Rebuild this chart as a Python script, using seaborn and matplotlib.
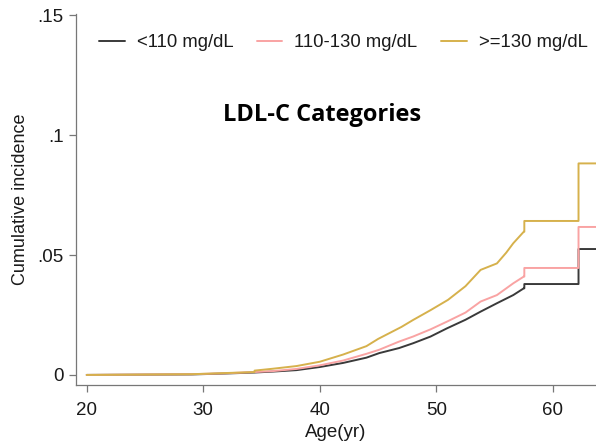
import matplotlib
matplotlib.use("Agg")
import matplotlib.pyplot as plt
import seaborn as sns
import pandas as pd

groups = ["<110 mg/dL", "110-130 mg/dL", ">=130 mg/dL"]

age_low = [20, 29, 32, 34.4, 36, 38, 40, 42, 44, 45.1, 46.8, 48, 49.5, 50.9, 52.5, 53.8, 55.2, 56.6, 57.5, 57.55, 57.55, 62.2, 62.2, 64]
cum_low = [0, 0.0002, 0.0006, 0.001, 0.0014, 0.002, 0.0033, 0.005, 0.0072, 0.0091, 0.0112, 0.0132, 0.016, 0.0194, 0.023, 0.0264, 0.0299, 0.0333, 0.0361, 0.0361, 0.0379, 0.0379, 0.0525, 0.0525]

age_mid = [20, 29, 32, 34.4, 36, 38, 40, 42, 44, 45.1, 46.8, 48, 49.5, 50.9, 52.5, 53.8, 55.2, 56.6, 57.5, 57.55, 57.55, 62.2, 62.2, 64]
cum_mid = [0, 0.0003, 0.0007, 0.0012, 0.0016, 0.0025, 0.004, 0.006, 0.0088, 0.0105, 0.0139, 0.016, 0.019, 0.0222, 0.026, 0.0306, 0.0333, 0.0382, 0.041, 0.041, 0.0446, 0.0446, 0.0617, 0.0617]

age_high = [20, 29, 32, 34.4, 34.4, 36, 38, 40, 42, 44, 45, 46, 47, 48, 49.5, 51, 52.5, 53.8, 55.2, 56, 56.6, 57.5, 57.55, 57.55, 62.2, 62.2, 64]
cum_high = [0, 0.0003, 0.0008, 0.0012, 0.0018, 0.0026, 0.0037, 0.0055, 0.0085, 0.012, 0.015, 0.0175, 0.02, 0.0229, 0.027, 0.0313, 0.037, 0.0438, 0.0465, 0.051, 0.0549, 0.0597, 0.0597, 0.0642, 0.0642, 0.0882, 0.0882]

y_ticks = [0, 0.05, 0.1, 0.15]
y_ticklabels = ["0", ".05", ".1", ".15"]
x_ticks = [20, 30, 40, 50, 60]

df = pd.concat([
    pd.DataFrame({"age": age_low, "cum": cum_low, "group": groups[0]}),
    pd.DataFrame({"age": age_mid, "cum": cum_mid, "group": groups[1]}),
    pd.DataFrame({"age": age_high, "cum": cum_high, "group": groups[2]}),
])

sns.set_style("white")
plt.rcParams["font.family"] = ["Liberation Sans", "DejaVu Sans"]

palette = {groups[0]: "#3a3a3a", groups[1]: "#f9a3a3", groups[2]: "#d6b14c"}

fig = plt.figure(figsize=(5.96, 4.45), dpi=100)
ax = fig.add_axes([76/596, (445-385)/445, 1 - 76/596, (385-14)/445])

sns.lineplot(data=df, x="age", y="cum", hue="group", hue_order=groups,
             palette=palette, linewidth=1.4,
             estimator=None, sort=False, ax=ax, legend=True)

ax.set_xlim(19.08, 63.7)
ax.set_ylim(-0.0042, 0.1505)
ax.set_xticks(x_ticks)
ax.set_xticklabels([str(t) for t in x_ticks])
ax.set_yticks(y_ticks)
ax.set_yticklabels(y_ticklabels)
ax.tick_params(axis="x", pad=7)
ax.tick_params(axis="y", pad=4)
ax.tick_params(axis="both", which="both", direction="out", length=5, width=0.9,
               color="#777777", labelsize=13.5, labelcolor="#1a1a1a",
               left=True, bottom=True)
for s in ["top", "right"]:
    ax.spines[s].set_visible(False)
for s in ["left", "bottom"]:
    ax.spines[s].set_color("#777777")
    ax.spines[s].set_linewidth(0.9)

ax.set_xlabel("Age(yr)", fontsize=13.5, color="#1a1a1a", labelpad=4)
ax.set_ylabel("Cumulative incidence", fontsize=13, color="#1a1a1a", labelpad=6)

leg = ax.legend(loc="upper left", bbox_to_anchor=(99/596, 1 - 34/445),
                bbox_transform=fig.transFigure, ncol=3, frameon=False,
                fontsize=13.3, handlelength=1.4, handletextpad=0.65,
                columnspacing=1.25, borderaxespad=0, borderpad=0)
for t in leg.get_texts():
    t.set_color("#1a1a1a")

fig.text(322/596, 1 - 115/445, "LDL-C Categories", ha="center", va="center",
         fontsize=17, fontweight="bold", color="black",
         family=["Open Sans", "DejaVu Sans"])

fig.savefig("out.png", dpi=100)
